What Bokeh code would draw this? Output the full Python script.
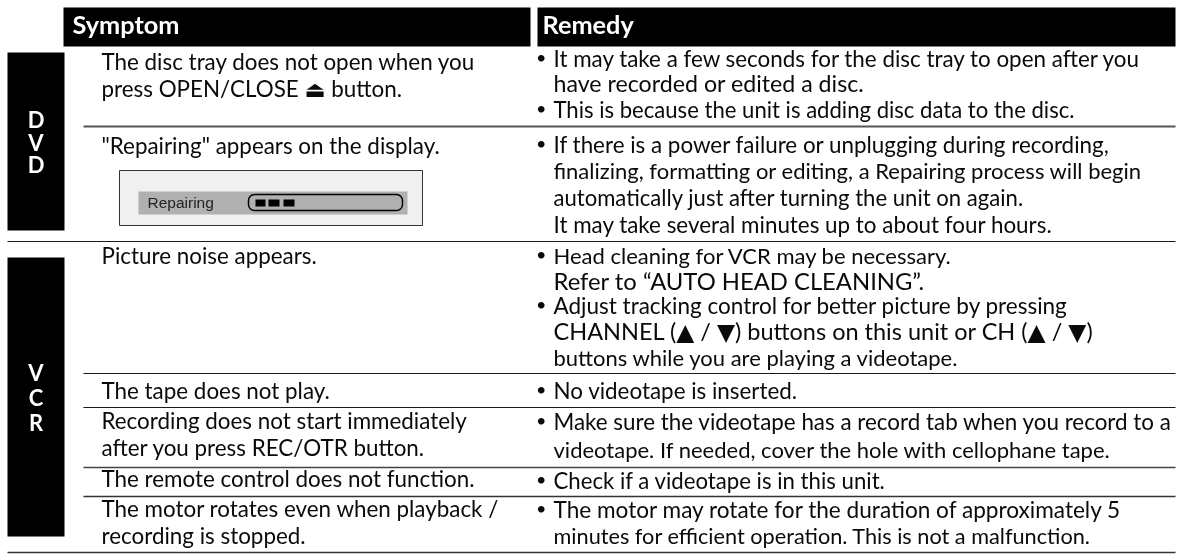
from bokeh.plotting import figure
from bokeh.models import Range1d
from bokeh.core.properties import value
from bokeh.embed import file_html
from bokeh.resources import INLINE

headers = ["Symptom", "Remedy"]
side_dvd = ["D", "V", "D"]
side_vcr = ["V", "C", "R"]
symptom_lines = [
    "The disc tray does not open when you",
    "press OPEN/CLOSE \u23cf button.",
    "\"Repairing\" appears on the display.",
    "Picture noise appears.",
    "The tape does not play.",
    "Recording does not start immediately",
    "after you press REC/OTR button.",
    "The remote control does not function.",
    "The motor rotates even when playback /",
    "recording is stopped.",
]
remedy_lines = [
    "It may take a few seconds for the disc tray to open after you",
    "have recorded or edited a disc.",
    "This is because the unit is adding disc data to the disc.",
    "If there is a power failure or unplugging during recording,",
    "finalizing, formatting or editing, a Repairing process will begin",
    "automatically just after turning the unit on again.",
    "It may take several minutes up to about four hours.",
    "Head cleaning for VCR may be necessary.",
    "Refer to \u201cAUTO HEAD CLEANING\u201d.",
    "Adjust tracking control for better picture by pressing",
    "CHANNEL (\u25b2 / \u25bc) buttons on this unit or CH (\u25b2 / \u25bc)",
    "buttons while you are playing a videotape.",
    "No videotape is inserted.",
    "Make sure the videotape has a record tab when you record to a",
    "videotape. If needed, cover the hole with cellophane tape.",
    "Check if a videotape is in this unit.",
    "The motor may rotate for the duration of approximately 5",
    "minutes for efficient operation. This is not a malfunction.",
]
display_label = "Repairing"

symptom_y = [69, 96, 153, 263, 398, 428, 455, 486, 516, 543]
remedy_y = [66, 91, 117, 152, 178, 205, 232, 263, 289, 313, 339, 365, 398, 429, 457, 488, 517, 544]
remedy_sizes = [22.4, 23.2, 22.1, 22.4, 22.0, 22.1, 22.4, 22.0, 23.8, 22.5, 23.5, 22.0, 22.4, 22.4, 22.0, 22.2, 22.6, 21.7]
bullet_y = [66, 117, 152, 263, 313, 398, 429, 488, 517]
rule_y = [126, 241, 373, 407, 467, 496, 552]
rule_x0 = [83, 7, 83, 83, 83, 83, 7]
rule_color = ["#555555", "#1a1a1a", "#1a1a1a", "#1a1a1a", "#444444", "#333333", "#333333"]
rule_width = [2, 1.2, 1.2, 1.2, 1.6, 1.4, 1.6]

FONT = value("Lato, 'DejaVu Sans'")
BODY = 22.4
def up(ys, size):
    return [y - 0.37 * size for y in ys]

p = figure(width=1179, height=554, x_range=Range1d(0, 1179), y_range=Range1d(554, 0),
           output_backend="svg", toolbar_location=None, min_border=0,
           outline_line_color=None, background_fill_color="white", border_fill_color="white",
           styles={"position": "fixed", "left": "0px", "top": "0px"})
p.xaxis.visible = False
p.yaxis.visible = False
p.grid.visible = False

# black blocks
p.quad(left=[63, 537, 7, 7], right=[530, 1175, 64, 64], top=[7, 7, 52, 257], bottom=[46, 46, 230, 536],
       fill_color="black", line_color=None)

# rules
p.segment(x0=rule_x0, x1=[1175] * len(rule_y), y0=rule_y, y1=rule_y, line_color=rule_color, line_width=rule_width)

# display panel
p.quad(left=[119], right=[422], top=[170], bottom=[225], fill_color="#f0f0f0", line_color="#333333", line_width=1)
p.quad(left=[138], right=[407], top=[191], bottom=[214], fill_color="#b0b0b0", line_color=None)
p.quad(left=[248], right=[402], top=[194], bottom=[210], fill_color=None, line_color="black", line_width=1.5,
       border_radius=6)
p.quad(left=[255, 268, 283], right=[265, 279, 294], top=[199] * 3, bottom=[206] * 3, fill_color="black", line_color=None)
p.text(x=[147], y=up([208], 15.5), text=[display_label], text_font=value("Liberation Sans"), text_font_size="15.5px",
       text_color="#222222", text_baseline="alphabetic")

# headers
p.text(x=[72, 542], y=up([33, 33], 25.3), text=headers, text_font=FONT, text_font_style="bold", text_font_size="25.3px",
       text_color="white", text_baseline="alphabetic")

# side labels
p.text(x=[35.5] * 3, y=up([127, 150, 172], 22), text=side_dvd, text_font=FONT, text_font_style="bold", text_font_size="22px",
       text_color="white", text_align="center", text_baseline="alphabetic")
p.text(x=[35.5] * 3, y=up([380, 405, 430], 22), text=side_vcr, text_font=FONT, text_font_style="bold", text_font_size="22px",
       text_color="white", text_align="center", text_baseline="alphabetic")

# body
p.text(x=[101] * len(symptom_lines), y=up(symptom_y, BODY), text=symptom_lines, text_font=FONT, text_font_size=f"{BODY}px",
       text_color="#0a0a0a", text_baseline="alphabetic")
for line, base, size in zip(remedy_lines, remedy_y, remedy_sizes):
    p.text(x=[553], y=up([base], size), text=[line], text_font=FONT, text_font_size=f"{size}px",
           text_color="#0a0a0a", text_baseline="alphabetic")
p.text(x=[535.5] * len(bullet_y), y=up([y - 2.5 for y in bullet_y], 18), text=["\u2022"] * len(bullet_y), text_font=FONT,
       text_font_size="18px", text_color="#0a0a0a", text_baseline="alphabetic")

open("out.html", "w").write(file_html(p, INLINE))
